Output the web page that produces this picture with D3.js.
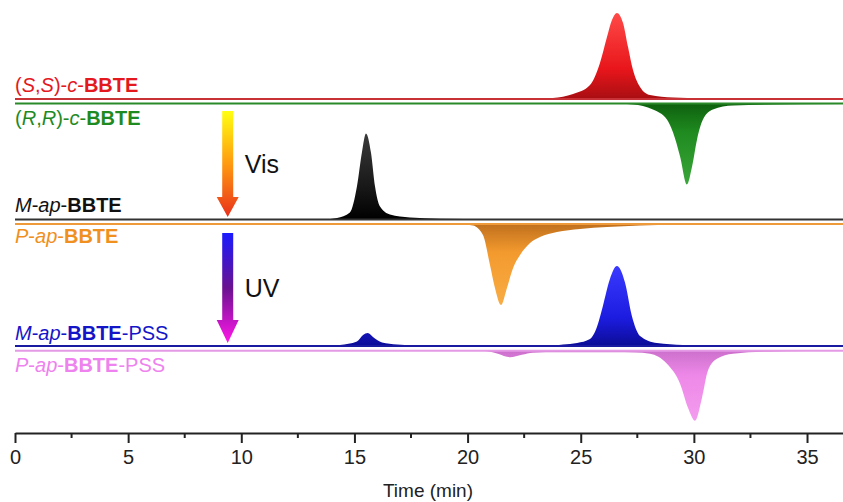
<!DOCTYPE html>
<html>
<head>
<meta charset="utf-8">
<script src="https://cdn.jsdelivr.net/npm/d3@7"></script>
<style>
  body { margin: 0; background: #fff; }
  svg { display: block; font-family: Arial, "Liberation Sans", sans-serif; }
</style>
</head>
<body>
<div id="chart"></div>
<script>
// chromatogram traces, [time (min), signal relative to the trace baseline]
var ssPoints = [[0,0],[23.2,0],[23.77,1],[24.66,5],[25.41,14],[25.85,36],[26.16,62],[26.38,79],[26.6,86],[26.87,76],[27.09,52],[27.31,29],[27.62,12],[28.06,4],[29.08,1.5],[31,0.4],[36.6,0]];
var rrPoints = [[0,0],[26.5,0],[27.31,-1],[28.19,-6],[28.81,-16],[29.08,-29],[29.39,-53],[29.69,-81],[29.92,-63],[30.14,-36],[30.4,-16],[30.84,-6],[31.73,-2],[36.6,-0.5]];
var mApPoints = [[0,0],[13.5,0],[14.23,1.5],[14.8,7],[15.11,33],[15.33,67],[15.51,86],[15.73,67],[15.91,33],[16.13,13],[16.57,5],[17.45,2],[18.78,0.8],[21,0.3],[23,0],[36.6,0]];
var pApPoints = [[0,0],[19.6,0],[20.24,-1.5],[20.68,-11],[20.99,-41],[21.21,-64],[21.48,-81],[21.74,-64],[22.01,-44],[22.32,-31],[22.76,-19],[23.2,-13],[23.95,-8],[24.97,-5],[26.16,-3],[27.62,-1.5],[30,-0.5],[36.6,0]];
var mApPssPoints = [[0,0],[13.8,0],[14.36,1],[15.11,4.5],[15.38,11],[15.59,13],[15.82,9],[16.22,3.5],[16.88,1.5],[17.9,0.5],[19,0],[23.5,0],[24.22,1.5],[24.84,3],[25.41,7],[25.7,18],[25.98,40],[26.29,67],[26.6,80],[26.95,64],[27.26,30],[27.62,10],[28.37,3],[29.52,1],[31,0.3],[36.6,0]];
var pApPssPoints = [[0,0],[20.3,0],[20.86,-0.5],[21.34,-3],[21.87,-6.5],[22.4,-4],[22.89,-2],[24,-1.5],[26.5,-1.5],[27.4,-1.8],[28.06,-3],[28.81,-13],[29.39,-33],[29.74,-57],[30.05,-70],[30.36,-47],[30.62,-20],[31.02,-8],[31.73,-3],[33.23,-1],[35,-0.3],[36.6,0]];

// trace offsets (stacked signal units)
var traceOffsets = [334, 329.5, 213.5, 209, 87, 82.3];
var xTicks = [0, 5, 10, 15, 20, 25, 30, 35];
var xMinorTicks = [2.5, 7.5, 12.5, 17.5, 22.5, 27.5, 32.5];

var svgWidth = 843;
var svgHeight = 502;

var svg = d3.select("#chart")
  .append("svg")
  .attr("width", svgWidth)
  .attr("height", svgHeight);

var x = d3.scaleLinear().domain([0, 36.59]).range([15, 843]);
var y = d3.scaleLinear().domain([0, 433]).range([433, 0]);

// label pieces: [text, style]  style: i = italic, b = bold, r = regular
var traces = [
  { pts: ssPoints, off: traceOffsets[0], fill: "#e8161b", dark: "#a80e12", light: "#ff4a48", line: "#c83236",
    label: [["(", "r"], ["S", "i"], [",", "r"], ["S", "i"], [")-", "r"], ["c", "i"], ["-", "r"], ["BBTE", "b"]], ly: -7 },
  { pts: rrPoints, off: traceOffsets[1], fill: "#1f8a1f", dark: "#0e600e", light: "#3aa63a", line: "#2a8a2a",
    label: [["(", "r"], ["R", "i"], [",", "r"], ["R", "i"], [")-", "r"], ["c", "i"], ["-", "r"], ["BBTE", "b"]], ly: 21.5 },
  { pts: mApPoints, off: traceOffsets[2], fill: "#161616", dark: "#000000", light: "#3a3a3a", line: "#333333",
    label: [["M", "i"], ["-", "r"], ["ap", "i"], ["-", "r"], ["BBTE", "b"]], ly: -8 },
  { pts: pApPoints, off: traceOffsets[3], fill: "#f39a2e", dark: "#c0701e", light: "#f8ac44", line: "#ee9a3a",
    label: [["P", "i"], ["-", "r"], ["ap", "i"], ["-", "r"], ["BBTE", "b"]], ly: 18.5 },
  { pts: mApPssPoints, off: traceOffsets[4], fill: "#1c1ce0", dark: "#0c0c96", light: "#3a3aff", line: "#1a1aa0",
    label: [["M", "i"], ["-", "r"], ["ap", "i"], ["-", "r"], ["BBTE", "b"], ["-PSS", "r"]], ly: -6 },
  { pts: pApPssPoints, off: traceOffsets[5], fill: "#ee88e8", dark: "#cc70cc", light: "#f39cee", line: "#e49ae4",
    label: [["P", "i"], ["-", "r"], ["ap", "i"], ["-", "r"], ["BBTE", "b"], ["-PSS", "r"]], ly: 21 }
];
var labelColors = ["#e3191e", "#1f8a1f", "#111111", "#f0901e", "#1515c8", "#ee82ee"];

var defs = svg.append("defs");

traces.forEach(function(tr, i) {
  var neg = d3.min(tr.pts, function(d) { return d[1]; }) < 0;
  var g = defs.append("linearGradient")
    .attr("id", "grad" + i)
    .attr("x1", 0).attr("y1", neg ? 1 : 0)
    .attr("x2", 0).attr("y2", neg ? 0 : 1);
  g.append("stop").attr("offset", "0%").attr("stop-color", tr.light);
  g.append("stop").attr("offset", "65%").attr("stop-color", tr.fill);
  g.append("stop").attr("offset", "100%").attr("stop-color", tr.dark);
});

var area = d3.area()
  .curve(d3.curveMonotoneX);

traces.forEach(function(tr, i) {
  area
    .x(function(d) { return x(d[0]); })
    .y0(function() { return y(tr.off); })
    .y1(function(d) { return y(tr.off + d[1]); });

  svg.append("path")
    .datum(tr.pts)
    .attr("d", area)
    .attr("fill", "url(#grad" + i + ")");

  svg.append("line")
    .attr("x1", x(0)).attr("x2", x(36.59))
    .attr("y1", y(tr.off)).attr("y2", y(tr.off))
    .attr("stroke", tr.line)
    .attr("stroke-width", 2);

  var t = svg.append("text")
    .attr("x", x(0))
    .attr("y", y(tr.off) + tr.ly)
    .attr("font-size", 20)
    .attr("fill", labelColors[i]);
  tr.label.forEach(function(p) {
    t.append("tspan")
      .text(p[0])
      .attr("font-style", p[1] == "i" ? "italic" : "normal")
      .attr("font-weight", p[1] == "b" ? "bold" : "normal");
  });
});

// arrows (Vis, UV)
var arrows = [
  { top: 322, headStart: 236, tip: 216, stops: ["#ffff10", "#ff9a10", "#e8301c"], text: "Vis", ty: 260 },
  { top: 200, headStart: 113, tip: 90, stops: ["#1a1aff", "#6a1290", "#ff18e8"], text: "UV", ty: 136 }
];
arrows.forEach(function(a, i) {
  var g = defs.append("linearGradient")
    .attr("id", "arrow" + i)
    .attr("gradientUnits", "userSpaceOnUse")
    .attr("x1", 0).attr("y1", y(a.top))
    .attr("x2", 0).attr("y2", y(a.tip));
  g.append("stop").attr("offset", "0%").attr("stop-color", a.stops[0]);
  g.append("stop").attr("offset", "50%").attr("stop-color", a.stops[1]);
  g.append("stop").attr("offset", "100%").attr("stop-color", a.stops[2]);

  var cx = x(9.4);
  var pts = [
    [cx - 5.5, y(a.top)], [cx + 5.5, y(a.top)], [cx + 5.5, y(a.headStart)], [cx + 11, y(a.headStart)],
    [cx, y(a.tip)], [cx - 11, y(a.headStart)], [cx - 5.5, y(a.headStart)]
  ];
  svg.append("path")
    .attr("d", d3.line()(pts) + "Z")
    .attr("fill", "url(#arrow" + i + ")");

  svg.append("text")
    .attr("x", cx + 17)
    .attr("y", y(a.ty))
    .attr("font-size", 25)
    .attr("fill", "#111")
    .text(a.text);
});

// x axis
var xAxis = d3.axisBottom(x)
  .tickValues(xTicks)
  .tickFormat(d3.format("d"))
  .tickSize(10)
  .tickSizeOuter(0)
  .tickPadding(7);

var axisG = svg.append("g")
  .attr("transform", "translate(0," + y(0) + ")")
  .call(xAxis);
axisG.select(".domain").attr("stroke", "#222").attr("stroke-width", 2);
axisG.selectAll(".tick line").attr("stroke", "#222").attr("stroke-width", 2);
axisG.selectAll(".tick text").attr("font-size", 20).attr("fill", "#222")
  .attr("font-family", "Arial, 'Liberation Sans', sans-serif");

svg.append("g")
  .selectAll("line")
  .data(xMinorTicks)
  .enter()
  .append("line")
  .attr("x1", d => x(d)).attr("x2", d => x(d))
  .attr("y1", y(0)).attr("y2", y(0) + 5)
  .attr("stroke", "#222")
  .attr("stroke-width", 2);

svg.append("text")
  .attr("x", 428)
  .attr("y", 497)
  .attr("text-anchor", "middle")
  .attr("font-size", 19)
  .attr("fill", "#222")
  .text("Time (min)");
</script>
</body>
</html>
